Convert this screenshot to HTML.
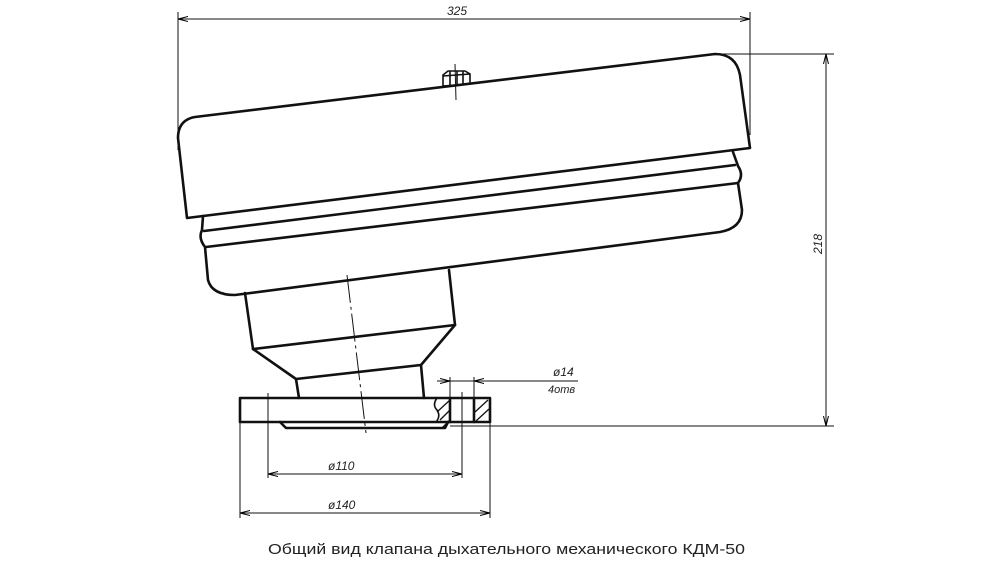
<!DOCTYPE html>
<html><head><meta charset="utf-8"><style>
html,body{margin:0;padding:0;background:#fff;}
svg{display:block;}
</style></head><body>
<svg width="1000" height="567" viewBox="0 0 1000 567" xmlns="http://www.w3.org/2000/svg">
<defs>
<marker id="a" viewBox="0 0 10 6" refX="10" refY="3" markerWidth="10" markerHeight="6" orient="auto-start-reverse" markerUnits="userSpaceOnUse"><path d="M0,0.5 L10,3 L0,5.5" fill="none" stroke="#000" stroke-width="1"/></marker>
</defs>
<rect width="1000" height="567" fill="#fff"/>
<g fill="none" stroke="#111" stroke-width="2.6" stroke-linejoin="round" stroke-linecap="round">
<!-- cover -->
<path d="M195,117 L715,54 Q736,54 740,75 L750,148 L187,218 L178,138 Q178,120 195,117 Z"/>
<!-- lower body -->
<path d="M203,216 L202,230 Q198,238 205,247 L208,280 Q212,295 235,295 L720,232 Q742,228 742,210 L738,183 Q744,175 738,166 L733,152"/>
<path d="M204,231 L735,165"/>
<path d="M206,247 L738,183"/>
<!-- neck -->
<path d="M245,293 L253,349 L455,325 L449,270"/>
<path d="M253,349 L296,379 L421,365 L455,325"/>
<path d="M296,379 L299,398"/>
<path d="M421,365 L424,398"/>
<!-- flange -->
<rect x="240" y="398" width="250" height="24"/>
<path d="M280,422 L286,428 L445,428 L448,422"/>
<path d="M450,398 L450,422 M474,398 L474,422"/>
<path d="M437,398 Q432,405 437,410 Q441,416 436,422" stroke-width="1.6"/>
</g>
<!-- hatching -->
<g stroke="#111" stroke-width="1.3">
<line x1="437" y1="412" x2="450" y2="400"/><line x1="440" y1="420" x2="450" y2="410"/><line x1="442" y1="428" x2="450" y2="420"/>
<line x1="475" y1="412" x2="488" y2="400"/><line x1="476" y1="421" x2="489" y2="409"/>
</g>
<!-- nut -->
<g fill="none" stroke="#111" stroke-width="1.6">
<path d="M443,86 L443,75 L448,71 L465,71 L470,74 L470,84 Z"/>
<path d="M450,71 L450,85 M457,71 L457,85 M463,71 L463,84"/>
<path d="M443,76 L470,74"/>
</g>
<line x1="455" y1="64" x2="456" y2="100" stroke="#111" stroke-width="1"/>
<!-- centerlines -->
<line x1="347" y1="275" x2="366" y2="433" stroke="#111" stroke-width="1" stroke-dasharray="28,4,3,4"/>
<line x1="462" y1="392" x2="462" y2="440" stroke="#111" stroke-width="1" stroke-dasharray="14,3,3,3"/>
<!-- dimension lines -->
<g stroke="#111" stroke-width="1" fill="none">
<line x1="178" y1="12" x2="178" y2="150"/>
<line x1="750" y1="12" x2="750" y2="135"/>
<line x1="178" y1="19" x2="750" y2="19" marker-start="url(#a)" marker-end="url(#a)"/>
<line x1="715" y1="54" x2="834" y2="54"/>
<line x1="450" y1="426" x2="834" y2="426"/>
<line x1="826" y1="54" x2="826" y2="426" marker-start="url(#a)" marker-end="url(#a)"/>
<line x1="268" y1="393" x2="268" y2="478"/>
<line x1="462" y1="393" x2="462" y2="478"/>
<line x1="268" y1="474" x2="462" y2="474" marker-start="url(#a)" marker-end="url(#a)"/>
<line x1="240" y1="422" x2="240" y2="518"/>
<line x1="490" y1="422" x2="490" y2="518"/>
<line x1="240" y1="513" x2="490" y2="513" marker-start="url(#a)" marker-end="url(#a)"/>
<line x1="450" y1="377" x2="450" y2="398"/>
<line x1="474" y1="377" x2="474" y2="398"/>
<line x1="450" y1="381" x2="578" y2="381"/>
<line x1="437" y1="381" x2="450" y2="381" marker-end="url(#a)"/>
<line x1="487" y1="381" x2="474" y2="381" marker-end="url(#a)"/>
</g>
<g font-family="Liberation Sans, sans-serif" font-style="italic" font-size="12" fill="#222">
<text x="447" y="15">325</text>
<text x="822" y="254" transform="rotate(-90 822 254)">218</text>
<text x="328" y="470">ø110</text>
<text x="328" y="509">ø140</text>
<text x="553" y="376">ø14</text>
<text x="548" y="393" font-size="11">4отв</text>
</g>
<text x="268" y="554" font-family="Liberation Sans, sans-serif" font-size="15" fill="#222" textLength="477" lengthAdjust="spacingAndGlyphs">Общий вид клапана дыхательного механического КДМ-50</text>
</svg>
</body></html>
